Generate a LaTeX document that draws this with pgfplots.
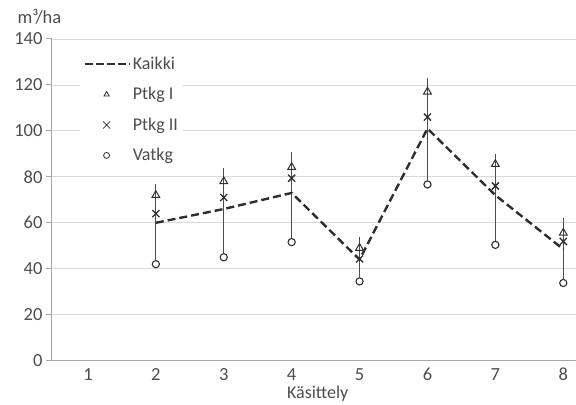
\documentclass[border=0pt]{standalone}
\usepackage{fontspec}
\setmainfont{Carlito}
\usepackage{pgfplots}
\pgfplotsset{compat=1.18}
\definecolor{txt}{HTML}{4D4D4D}
\definecolor{gridc}{HTML}{D9D9D9}
\definecolor{axc}{HTML}{A6A6A6}
\definecolor{mk}{HTML}{2E2E2E}
\begin{document}
\begin{tikzpicture}
\begin{axis}[
  scale only axis, width=524pt, height=322pt,
  xmin=0.47, xmax=8.18, ymin=0, ymax=140,
  xtick={1,...,8}, ytick={0,20,...,140},
  axis lines*=left, axis line style={axc, line width=1pt},
  y axis line style={-}, x axis line style={-},
  major x tick style={draw=none},
  major y tick style={axc, line width=1pt},
  major tick length=6pt, tick align=outside,
  ymajorgrids, grid style={gridc, line width=0.8pt},
  font=\fontsize{18}{21}\selectfont,
  tick label style={txt, font=\fontsize{18.5}{21}\selectfont},
  /pgf/number format/assume math mode=true,
  xticklabel style={yshift=2pt},
  xlabel={Käsittely},
  xlabel style={txt, font=\fontsize{18}{21}\selectfont,
    at={(axis description cs:0.5,0)}, anchor=base, yshift=-37.5pt, xshift=4pt},
  clip=false,
  unbounded coords=jump,
  legend cell align=left,
  legend style={at={(0.054,0.96)}, anchor=north west, draw=none, fill=white,
    text=txt, font=\fontsize{18}{21}\selectfont, row sep=12.5pt,
    inner xsep=3pt, inner ysep=3pt},
]
% vertical range lines
\addplot[color=txt, line width=0.9pt, forget plot] coordinates {
(2,43.7)(2,77) (2,nan)
(3,46.7)(3,84) (3,nan)
(4,53.3)(4,91) (4,nan)
(5,36.3)(5,54) (5,nan)
(6,78.5)(6,123) (6,nan)
(7,52.2)(7,90) (7,nan)
(8,35.6)(8,62)
};
\addplot[mk, line width=2.4pt, dash pattern=on 8pt off 4pt,
  legend image code/.code={\draw[mk, line width=2.4pt, dash pattern=on 8pt off 3pt] (0pt,0pt) -- (45pt,0pt);}]
  coordinates {(2,60)(3,66)(4,73)(5,44)(6,101)(7,72)(8,48.5)};
\addlegendentry{Kaikki}
\addplot[only marks, mark=triangle, mark size=4.5pt, mk, line width=1pt,
  legend image code/.code={\draw[mk, line width=0.8pt] plot[mark=triangle, mark size=3pt] coordinates {(22pt,0pt)};}]
  coordinates {(2,72)(3,78)(4,84.2)(5,49)(6,117)(7,85.5)(8,55.6)};
\addlegendentry{Ptkg I}
\addplot[only marks, mark=x, mark size=5pt, mk, line width=1.3pt,
  legend image code/.code={\draw[mk, line width=0.8pt] plot[mark=x, mark size=5pt] coordinates {(22pt,0pt)};}]
  coordinates {(2,64)(3,71)(4,79.4)(5,44.3)(6,106)(7,76)(8,51.9)};
\addlegendentry{Ptkg II}
\addplot[only marks, mark=o, mark size=3.6pt, mk, line width=1.1pt,
  legend image code/.code={\draw[mk, line width=0.8pt] plot[mark=o, mark size=3pt] coordinates {(22pt,0pt)};}]
  coordinates {(2,42)(3,45)(4,51.6)(5,34.5)(6,76.7)(7,50.4)(8,33.8)};
\addlegendentry{Vatkg}
\node[txt, anchor=base west, font=\fontsize{18.5}{21}\selectfont] at ([xshift=-38pt,yshift=15pt]rel axis cs:0,1) {m³/ha};
\end{axis}
\useasboundingbox (-52pt,-43pt) rectangle (524pt,361pt);
\end{tikzpicture}
\end{document}
